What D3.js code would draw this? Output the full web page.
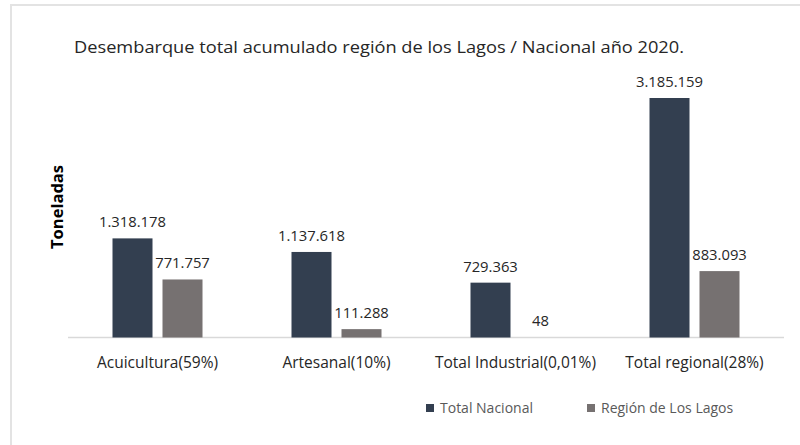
<!DOCTYPE html>
<html>
<head>
<meta charset="utf-8">
<script src="https://cdn.jsdelivr.net/npm/d3@7.9.0/dist/d3.min.js"></script>
<style>
  body { margin: 0; background: #fff; }
  svg { display: block; font-family: "Open Sans", sans-serif; }
</style>
</head>
<body>
<svg id="chart" width="800" height="445"></svg>
<script>
// data
const categories = ['Acuicultura(59%)', 'Artesanal(10%)', 'Total Industrial(0,01%)', 'Total regional(28%)'];
const series = ['Total Nacional', 'Región de Los Lagos'];
const nacional = [1318178, 1137618, 729363, 3185159];
const regional = [771757, 111288, 48, 883093];

const colors = ['#333f50', '#767171'];
const fmt = v => d3.format(',')(v).replace(/,/g, '.');

let svg = d3.select('#chart');

// light frame around the chart area
svg.append('path')
    .attr('d', 'M11,445 V5 H800')
    .attr('fill', 'none')
    .attr('stroke', '#e3e3e3')
    .attr('stroke-width', 2);

let x = d3.scaleBand().domain(categories).range([68, 784]);
let xs = d3.scaleBand().domain(series)
    .range([x.bandwidth() / 2 - 45, x.bandwidth() / 2 + 45])
    .paddingInner(0.2);
let y = d3.scaleLinear().domain([0, d3.max(nacional)]).range([337.5, 98]);

let rows = categories.map((c, i) => ({ cat: c, values: [nacional[i], regional[i]] }));

// baseline
svg.append('line')
    .attr('x1', 68).attr('x2', 784)
    .attr('y1', y(0)).attr('y2', y(0))
    .attr('stroke', '#d9d9d9')
    .attr('stroke-width', 1.5);

let groups = svg.selectAll('g.grp')
    .data(rows)
    .join('g')
    .attr('class', 'grp')
    .attr('transform', d => `translate(${x(d.cat)},0)`);

groups.selectAll('rect')
    .data(d => d.values.map((v, i) => ({ key: series[i], v: v, i: i })))
    .join('rect')
    .attr('x', d => xs(d.key))
    .attr('width', xs.bandwidth())
    .attr('y', d => y(d.v))
    .attr('height', d => y(0) - y(d.v))
    .attr('fill', d => colors[d.i]);

groups.selectAll('text.val')
    .data(d => d.values.map((v, i) => ({ key: series[i], v: v })))
    .join('text')
    .attr('class', 'val')
    .attr('x', d => xs(d.key) + xs.bandwidth() / 2)
    .attr('y', d => y(d.v) - 11)
    .attr('text-anchor', 'middle')
    .attr('font-size', 14.8)
    .attr('fill', '#262626')
    .text(d => fmt(d.v));

// category labels
svg.append('g')
    .selectAll('text')
    .data(categories)
    .join('text')
    .attr('x', d => x(d) + x.bandwidth() / 2)
    .attr('y', 368)
    .attr('text-anchor', 'middle')
    .attr('font-size', 15.5)
    .attr('fill', '#262626')
    .text(d => d);

// title
svg.append('text')
    .attr('x', 74)
    .attr('y', 53)
    .attr('font-size', 17)
    .attr('fill', '#262626')
    .attr('textLength', 610)
    .attr('lengthAdjust', 'spacingAndGlyphs')
    .text('Desembarque total acumulado región de los Lagos / Nacional año 2020.');

// y axis title
svg.append('text')
    .attr('transform', 'translate(63,207) rotate(-90)')
    .attr('text-anchor', 'middle')
    .attr('font-size', 16.5)
    .attr('font-weight', 'bold')
    .attr('fill', '#000')
    .text('Toneladas');

// legend
let legendX = [426, 587];
let legend = svg.append('g')
    .selectAll('g')
    .data(series)
    .join('g')
    .attr('transform', (d, i) => `translate(${legendX[i]},404)`);

legend.append('rect')
    .attr('width', 8).attr('height', 8)
    .attr('fill', (d, i) => colors[i]);

legend.append('text')
    .attr('x', 14)
    .attr('y', 9)
    .attr('font-size', 14)
    .attr('fill', '#595959')
    .text(d => d);
</script>
</body>
</html>
